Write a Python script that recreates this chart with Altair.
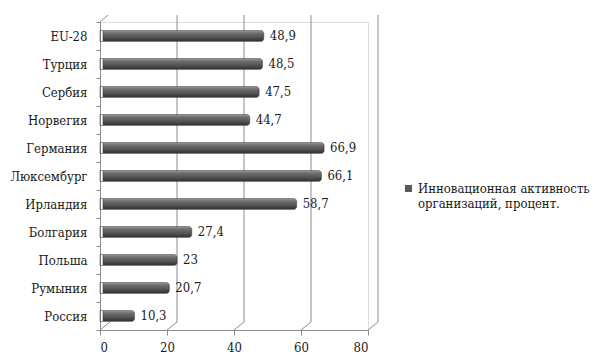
import altair as alt
import pandas as pd

categories = ["EU-28", "Турция", "Сербия", "Норвегия", "Германия", "Люксембург",
              "Ирландия", "Болгария", "Польша", "Румыния", "Россия"]
values = [48.9, 48.5, 47.5, 44.7, 66.9, 66.1, 58.7, 27.4, 23, 20.7, 10.3]
series_name = "Инновационная активность организаций, процент."
x_ticks = [0, 20, 40, 60, 80]
back_grid = [20, 40, 60, 80]

df = pd.DataFrame({"country": categories, "value": values, "series": series_name})
grid_df = pd.DataFrame({"value": back_grid})
tick_df = pd.DataFrame({"value": x_ticks})

FONT = "'DejaVu Serif Condensed', 'DejaVu Serif', serif"
FS = 13
GRID = "#8c8c8c"

x_scale = alt.Scale(domain=[0, 80], nice=False)
x_axis = alt.Axis(
    values=x_ticks, labelFont=FONT, labelFontSize=FS, labelColor="#1a1a1a",
    domainColor=GRID, tickColor=GRID, tickSize=5, grid=False, labelPadding=6,
)

def xq(**kw):
    return alt.X("value:Q", scale=x_scale, title=None, axis=x_axis, **kw)

grid = alt.Chart(grid_df).mark_rule(color=GRID, strokeWidth=1, xOffset=10).encode(
    x=xq(),
    y=alt.value(-7),
    y2=alt.value(300),
)

diag = alt.Chart(tick_df).mark_rule(color=GRID, strokeWidth=1, x2Offset=10).encode(
    x=xq(),
    x2="value:Q",
    y=alt.value(308),
    y2=alt.value(300),
)

top_diag = alt.Chart(pd.DataFrame({"value": [0]})).mark_rule(color=GRID, strokeWidth=1, x2Offset=8).encode(
    x=xq(),
    x2="value:Q",
    y=alt.value(0),
    y2=alt.value(-7),
)

gradient = {
    "gradient": "linear",
    "x1": 0, "y1": 0, "x2": 0, "y2": 1,
    "stops": [
        {"offset": 0, "color": "#9a9a9a"},
        {"offset": 0.25, "color": "#6e6e6e"},
        {"offset": 0.6, "color": "#555555"},
        {"offset": 1, "color": "#2e2e2e"},
    ],
}

y_enc = alt.Y(
    "country:N",
    sort=categories,
    title=None,
    scale=alt.Scale(paddingInner=0, paddingOuter=0),
    axis=alt.Axis(
        labelFont=FONT, labelFontSize=FS, labelColor="#1a1a1a",
        domainColor=GRID, tickColor=GRID, tickSize=4, tickBand="extent",
        labelPadding=9, grid=False,
    ),
)

bars = alt.Chart(df).mark_bar(size=11, xOffset=3, cornerRadiusEnd=3, stroke="#333333",
                              strokeWidth=0.5, fill=gradient).encode(
    x=xq(),
    y=y_enc,
)

legend_layer = alt.Chart(df).mark_square(opacity=0, size=1).encode(
    x=xq(),
    y=y_enc,
    color=alt.Color(
        "series:N",
        scale=alt.Scale(range=["#5a5a5a"]),
        legend=alt.Legend(
            title=None, orient="none", legendX=302, legendY=160,
            labelFont=FONT, labelFontSize=FS, labelColor="#1a1a1a",
            symbolType="square", symbolSize=50, symbolStrokeWidth=0,
            symbolOpacity=1, labelLimit=300, labelOffset=3,
            labelExpr="['Инновационная активность', 'организаций, процент.']",
        ),
    ),
)

labels = alt.Chart(df).mark_text(
    align="left", baseline="middle", dx=6, font=FONT, fontSize=FS, color="#1a1a1a"
).transform_calculate(
    lbl="replace(toString(datum.value), '.', ',')"
).encode(
    x=xq(),
    y=y_enc,
    text="lbl:N",
)

chart = alt.layer(grid, diag, top_diag, bars, labels, legend_layer).properties(
    width=268, height=308,
    autosize=alt.AutoSizeParams(type="none"),
    padding={"left": 92, "top": 14, "right": 230, "bottom": 25},
).configure_view(stroke=None).configure(background="white")

chart.save("out.html", embed_options={"renderer": "svg", "actions": False})
